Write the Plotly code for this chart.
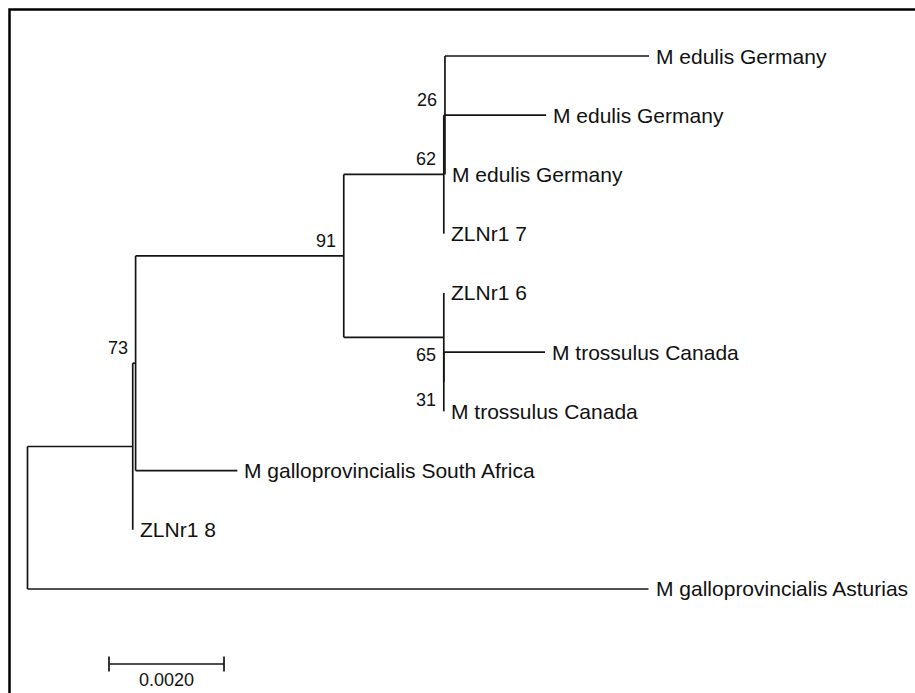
import plotly.graph_objects as go

# ---- Tree data: node id, parent, branch length (subst./site), tip label, bootstrap ----
node_id = ["root", "n1", "n2", "n3", "n4", "n5",
           "t1", "t2", "t3", "t4",
           "n6", "t5", "n7", "t6", "t7",
           "t8", "t9", "t10"]
parent_id = [None, "root", "n1", "n2", "n3", "n4",
             "n5", "n5", "n5", "n4",
             "n3", "n6", "n6", "n7", "n7",
             "n2", "n1", "root"]
branch_len = [0.0, 0.00183, 0.00005, 0.00362, 0.00174, 0.00002,
              0.00355, 0.00176, 0.0, 0.0,
              0.00174, 0.0, 0.0, 0.00176, 0.0,
              0.00177, 0.0, 0.0108]
tip_label = ["", "", "", "", "", "",
             "M edulis Germany", "M edulis Germany", "M edulis Germany", "ZLNr1 7",
             "", "ZLNr1 6", "", "M trossulus Canada", "M trossulus Canada",
             "M galloprovincialis South Africa", "ZLNr1 8", "M galloprovincialis Asturias"]
bootstrap = [None, None, 73, 91, 62, 26,
             None, None, None, None,
             65, None, 31, None, None,
             None, None, None]

scale_length = 0.0020

# ---- Layout of the rectangular cladogram ----
children = {n: [] for n in node_id}
for n, p in zip(node_id, parent_id):
    if p is not None:
        children[p].append(n)
blen = dict(zip(node_id, branch_len))
parent = dict(zip(node_id, parent_id))

xpos, ypos = {}, {}
leaf_counter = [0]


def place(n, x):
    xpos[n] = x
    kids = children[n]
    if not kids:
        ypos[n] = leaf_counter[0]
        leaf_counter[0] += 1
        return
    for c in kids:
        place(c, x + blen[c])
    ypos[n] = (ypos[kids[0]] + ypos[kids[-1]]) / 2.0


place("root", 0.0)

seg_x, seg_y = [], []
for n in node_id:
    p = parent[n]
    if p is not None:  # horizontal branch
        seg_x += [xpos[p], xpos[n], None]
        seg_y += [ypos[n], ypos[n], None]
    kids = children[n]
    if kids:  # vertical connector
        seg_x += [xpos[n], xpos[n], None]
        seg_y += [ypos[kids[0]], ypos[kids[-1]], None]

# ---- Canvas geometry (pixels) ----
W, H = 915, 693
PX_PER_UNIT = 57500.0      # horizontal pixels per substitution/site
ROOT_PX = 27.5             # pixel column of the root
LEAF_STEP_PX = 59.22       # vertical spacing between tips
FIRST_LEAF_PX = 56.0       # pixel row of the first tip

x_min = -ROOT_PX / PX_PER_UNIT
x_max = x_min + W / PX_PER_UNIT
y_top = -FIRST_LEAF_PX / LEAF_STEP_PX
y_bot = y_top + H / LEAF_STEP_PX


def px_x(px):
    return x_min + px / PX_PER_UNIT


def px_y(py):
    return y_top + py / LEAF_STEP_PX


LINE = "#141414"
FONT = "Arial, Liberation Sans, sans-serif"

fig = go.Figure()
fig.add_trace(go.Scatter(x=seg_x, y=seg_y, mode="lines",
                         line=dict(color=LINE, width=1.7),
                         hoverinfo="skip", showlegend=False))

# scale bar
sb_x0 = px_x(109)
sb_y = px_y(664)
tick = 7.5 / LEAF_STEP_PX
fig.add_trace(go.Scatter(
    x=[sb_x0, sb_x0 + scale_length, None, sb_x0, sb_x0, None,
       sb_x0 + scale_length, sb_x0 + scale_length],
    y=[sb_y, sb_y, None, sb_y - tick, sb_y + tick, None, sb_y - tick, sb_y + tick],
    mode="lines", line=dict(color=LINE, width=1.7),
    hoverinfo="skip", showlegend=False))

annotations = []
for n, lab in zip(node_id, tip_label):
    if lab:
        annotations.append(dict(x=xpos[n], y=ypos[n], text=lab, showarrow=False,
                                xanchor="left", yanchor="middle", xshift=5,
                                font=dict(family=FONT, size=21, color="#111111")))
for n, bs in zip(node_id, bootstrap):
    if bs is not None:
        upper = children[parent[n]][0] == n
        annotations.append(dict(x=xpos[n], y=ypos[n], text=str(bs), showarrow=False,
                                xanchor="right", yanchor="middle", xshift=-6,
                                yshift=15 if upper else -18,
                                font=dict(family=FONT, size=18, color="#111111")))
annotations.append(dict(x=sb_x0 + scale_length / 2, y=sb_y, text=f"{scale_length:.4f}",
                        showarrow=False, xanchor="center", yanchor="top", yshift=-4,
                        font=dict(family=FONT, size=18, color="#111111")))

fig.update_layout(
    width=W, height=H,
    margin=dict(l=0, r=0, t=0, b=0),
    paper_bgcolor="white", plot_bgcolor="white",
    xaxis=dict(range=[x_min, x_max], visible=False, fixedrange=True),
    yaxis=dict(range=[y_bot, y_top], visible=False, fixedrange=True),
    annotations=annotations,
    shapes=[dict(type="rect", xref="paper", yref="paper",
                 x0=9.5 / W, x1=1.2, y0=-0.2, y1=1 - 9.5 / H,
                 line=dict(color="#000000", width=2.5))],
    showlegend=False,
)

fig.write_html("out.html", config={"displayModeBar": False})
